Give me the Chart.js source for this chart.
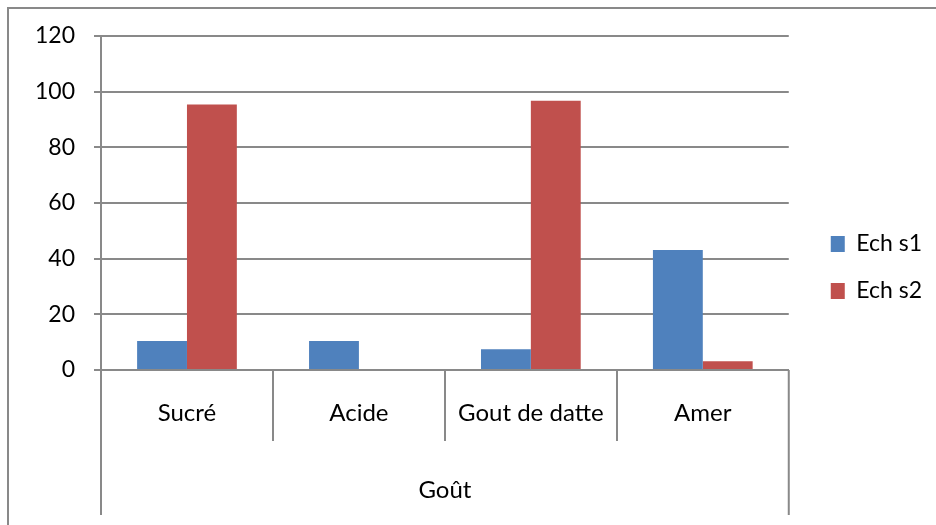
<!DOCTYPE html>
<html>
<head>
<meta charset="utf-8">
<script src="https://cdn.jsdelivr.net/npm/chart.js@4"></script>
<style>
  html, body { margin: 0; padding: 0; background: #ffffff; }
  canvas { display: block; }
</style>
</head>
<body>
<canvas id="chart" width="936" height="525"></canvas>
<script>
// Taste categories and the two sample series (percentages)
const categories = ['Sucré', 'Acide', 'Gout de datte', 'Amer'];
const groupLabel = 'Goût';
const seriesNames = ['Ech s1', 'Ech s2'];
const echS1 = [10.4, 10.4, 7.5, 43.1];
const echS2 = [95.4, 0, 96.7, 3.1];
const yTicks = [0, 20, 40, 60, 80, 100, 120];

const FONT = "Lato, 'Open Sans', 'DejaVu Sans', sans-serif";
const LINE = '#898989';

// Frame around the chart and the two-level category axis boxes
const axisBoxes = {
  id: 'axisBoxes',
  beforeDraw(chart) {
    const ctx = chart.ctx;
    ctx.save();
    ctx.strokeStyle = LINE;
    ctx.lineWidth = 2;
    ctx.strokeRect(8, 8, chart.width + 20, chart.height + 20);
    ctx.restore();
  },
  afterDraw(chart) {
    const ctx = chart.ctx;
    const x = chart.scales.x;
    const area = chart.chartArea;
    const n = categories.length;
    const innerBottom = area.bottom + 71;
    const outerBottom = area.bottom + 145;
    ctx.save();
    ctx.strokeStyle = LINE;
    ctx.lineWidth = 2;
    ctx.beginPath();
    for (let i = 0; i < n - 1; i++) {
      const bx = Math.round((x.getPixelForValue(i) + x.getPixelForValue(i + 1)) / 2);
      ctx.moveTo(bx, area.bottom);
      ctx.lineTo(bx, innerBottom);
    }
    ctx.moveTo(area.left, area.bottom);
    ctx.lineTo(area.left, outerBottom);
    ctx.moveTo(area.right, area.bottom);
    ctx.lineTo(area.right, outerBottom);
    ctx.stroke();
    ctx.restore();
  }
};

new Chart(document.getElementById('chart'), {
  type: 'bar',
  data: {
    labels: categories,
    datasets: [
      { label: seriesNames[0], data: echS1, backgroundColor: '#4f81bd' },
      { label: seriesNames[1], data: echS2, backgroundColor: '#c0504d' }
    ]
  },
  options: {
    responsive: false,
    animation: false,
    devicePixelRatio: 1,
    layout: { padding: { top: 36, right: 4, bottom: 26, left: 0 } },
    datasets: {
      bar: { barPercentage: 1, categoryPercentage: 0.58, borderWidth: 0 }
    },
    plugins: {
      tooltip: { enabled: false },
      legend: {
        position: 'right',
        labels: {
          boxWidth: 14,
          boxHeight: 16,
          padding: 24,
          color: '#000',
          font: { family: FONT, size: 23 }
        }
      }
    },
    scales: {
      x: {
        grid: { display: false },
        border: { display: true, color: LINE, width: 2 },
        ticks: { color: '#000', padding: 21, font: { family: FONT, size: 24 } },
        title: {
          display: true,
          text: groupLabel,
          color: '#000',
          padding: { top: 0, bottom: 0 },
          font: { family: FONT, size: 24, lineHeight: 0.75 }
        },
        afterFit(s) { s.height = 129; }
      },
      y: {
        min: 0,
        max: 120,
        afterBuildTicks(s) { s.ticks = yTicks.map(v => ({ value: v })); },
        grid: { color: LINE, lineWidth: 2, tickLength: 7, tickColor: LINE },
        border: { display: true, color: LINE, width: 2 },
        ticks: { color: '#000', padding: 19, font: { family: FONT, size: 23 } },
        afterFit(s) { s.width = 101; }
      },
      gap: {
        position: 'right',
        display: true,
        grid: { display: false },
        border: { display: false },
        ticks: { display: false },
        afterFit(s) { s.width = 18; }
      }
    }
  },
  plugins: [axisBoxes]
});
</script>
</body>
</html>
